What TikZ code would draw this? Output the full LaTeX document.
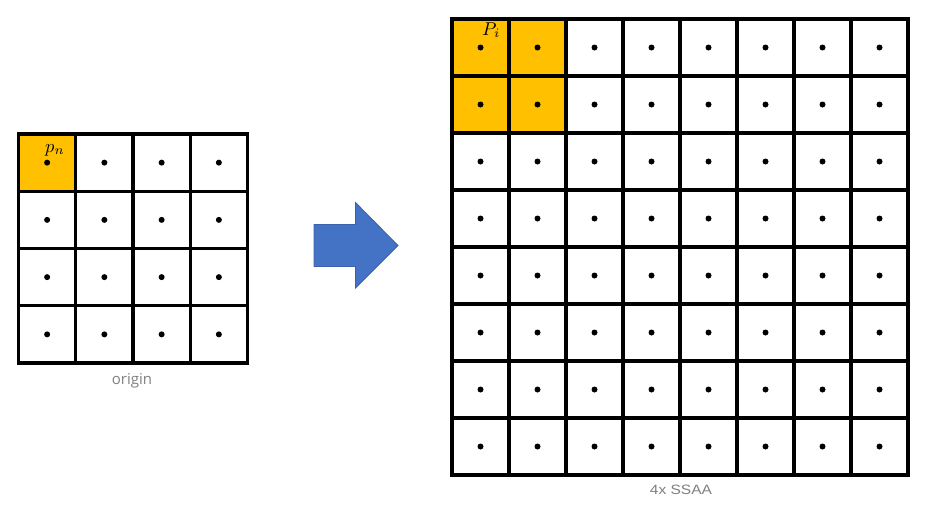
\documentclass[tikz,border=0pt]{standalone}
\usepackage{graphicx}
\usepackage{fontspec}
\newfontfamily\capfont{Open Sans}
\newfontfamily\ssaafont[FakeStretch=1.15]{Liberation Sans}
\definecolor{cellorange}{HTML}{FFC000}
\definecolor{arrowblue}{HTML}{4472C4}
\definecolor{arrowedge}{HTML}{3A62AC}
\definecolor{capgray}{HTML}{7F7F7F}
\tikzset{
  gridline/.style={line width=3.3pt, line cap=rect},
  sample/.style={fill=black},
  caption/.style={text=capgray, inner sep=0pt, anchor=base},
  plabel/.style={inner sep=0pt, anchor=base west},
}
\newcommand{\biglab}[1]{\scalebox{1.85}{$#1$}}
\begin{document}
\begin{tikzpicture}[x=1pt,y=-1pt]
\useasboundingbox (0,0) rectangle (929,504);
% left grid
\def\lx{18.5}\def\ly{134}\def\lc{57.25}
\fill[cellorange] (\lx,\ly) rectangle ++(\lc,\lc);
\foreach \i in {0,...,3}{
  \foreach \j in {0,...,3}{
    \fill[sample] ({\lx+\lc*\i+\lc/2},{\ly+\lc*\j+\lc/2}) circle (3);
  }
}
\foreach \k in {0,...,4}{
  \draw[gridline] ({\lx+\lc*\k},\ly) -- ({\lx+\lc*\k},{\ly+4*\lc});
  \draw[gridline] (\lx,{\ly+\lc*\k}) -- ({\lx+4*\lc},{\ly+\lc*\k});
}
\node[plabel] (pn) at (45,152) {\biglab{p_n}};
\node[caption, font=\capfont\fontsize{15}{17}\selectfont] (origin) at (132,384) {origin};
% arrow
\filldraw[fill=arrowblue, draw=arrowedge, line width=0.8pt]
  (314,224.5) -- (355.5,224.5) -- (355.5,202.5) -- (398,245.5) -- (355.5,288) -- (355.5,266.5) -- (314,266.5) -- cycle;
% right grid
\def\rx{452}\def\ry{19}\def\rc{57}
\fill[cellorange] (\rx,\ry) rectangle ++({2*\rc},{2*\rc});
\foreach \i in {0,...,7}{
  \foreach \j in {0,...,7}{
    \fill[sample] ({\rx+\rc*\i+\rc/2},{\ry+\rc*\j+\rc/2}) circle (3);
  }
}
\foreach \k in {0,...,8}{
  \draw[gridline] ({\rx+\rc*\k},\ry) -- ({\rx+\rc*\k},{\ry+8*\rc});
  \draw[gridline] (\rx,{\ry+\rc*\k}) -- ({\rx+8*\rc},{\ry+\rc*\k});
}
\node[plabel] (pi) at (482,35) {\biglab{P_i}};
\node[caption, font=\ssaafont\fontsize{13.5}{16}\selectfont] (ssaa) at (681,494) {4x SSAA};
\end{tikzpicture}
\end{document}
